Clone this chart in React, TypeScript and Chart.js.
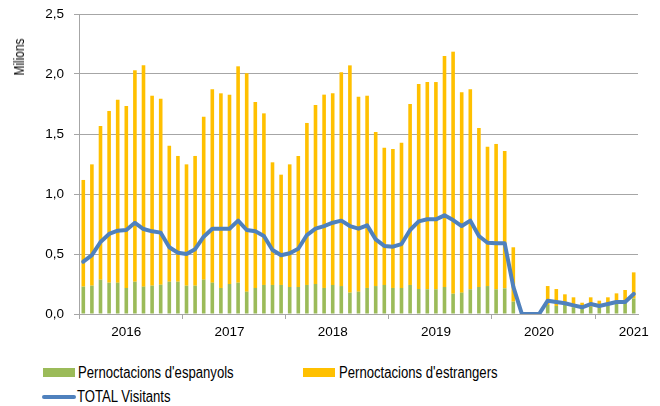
import { useEffect, useRef } from "react";
import { Chart, registerables } from "chart.js";

Chart.register(...registerables);

// ---- Data (millions) ----
const years = ["2016", "2017", "2018", "2019", "2020", "2021"];
const monthNames = ["gen", "febr", "març", "abr", "maig", "juny", "jul", "ag", "set", "oct", "nov", "des"];
const monthsPerYear = [12, 12, 12, 12, 12, 5];

const categories: string[] = [];
years.forEach((y, yi) => {
  for (let m = 0; m < monthsPerYear[yi]; m++) categories.push(`${monthNames[m]} ${y}`);
});

const pernoctacionsEspanyols = [
  0.228, 0.236, 0.286, 0.261, 0.261, 0.217, 0.269, 0.228, 0.236, 0.244, 0.269, 0.269,
  0.236, 0.236, 0.286, 0.261, 0.217, 0.25, 0.261, 0.186, 0.217, 0.242, 0.242, 0.242,
  0.225, 0.225, 0.242, 0.25, 0.217, 0.242, 0.233, 0.178, 0.186, 0.217, 0.233, 0.242,
  0.217, 0.217, 0.242, 0.208, 0.206, 0.206, 0.225, 0.169, 0.178, 0.206, 0.225, 0.233,
  0.206, 0.214, 0.103, 0, 0, 0, 0.075, 0.067, 0.075, 0.056, 0.047, 0.06,
  0.056, 0.075, 0.089, 0.094, 0.13,
];

const pernoctacionsEstrangers = [
  0.889, 1.011, 1.281, 1.431, 1.525, 1.516, 1.762, 1.844, 1.583, 1.55, 1.134, 1.048,
  1.011, 1.081, 1.358, 1.611, 1.622, 1.578, 1.803, 1.82, 1.55, 1.43, 1.022, 0.919,
  1.022, 1.092, 1.35, 1.492, 1.611, 1.597, 1.781, 1.894, 1.625, 1.602, 1.284, 1.144,
  1.158, 1.211, 1.508, 1.709, 1.727, 1.727, 1.925, 2.017, 1.669, 1.666, 1.325, 1.161,
  1.211, 1.144, 0.453, 0, 0, 0, 0.158, 0.141, 0.089, 0.083, 0.047, 0.079,
  0.055, 0.064, 0.083, 0.106, 0.217,
];

const totalVisitants = [
  0.436, 0.49, 0.6, 0.667, 0.694, 0.7, 0.76, 0.708, 0.689, 0.678, 0.556, 0.51,
  0.5, 0.54, 0.644, 0.711, 0.711, 0.711, 0.778, 0.7, 0.689, 0.65, 0.533, 0.489,
  0.506, 0.544, 0.658, 0.711, 0.733, 0.761, 0.778, 0.733, 0.711, 0.739, 0.622, 0.567,
  0.561, 0.583, 0.7, 0.772, 0.789, 0.789, 0.822, 0.783, 0.733, 0.778, 0.65, 0.594,
  0.589, 0.589, 0.228, 0, 0, 0, 0.111, 0.1, 0.089, 0.072, 0.056, 0.083,
  0.067, 0.083, 0.1, 0.1, 0.167,
];

// category index where each year's label sits, and first index of each year
const yearLabelIndices = [5, 17, 29, 41, 53, 64];
const yearStartIndices = [0, 12, 24, 36, 48, 60, 65];
const yTicks = [0, 0.5, 1, 1.5, 2, 2.5];

const GREEN = "#9BBB59";
const YELLOW = "#FFC000";
const BLUE = "#4F81BD";
const GRID = "#a6a6a6";
const FONT = "'Liberation Sans', Arial, sans-serif";

export default function App() {
  const canvasRef = useRef<HTMLCanvasElement | null>(null);

  useEffect(() => {
    if (!canvasRef.current) return;
    Chart.defaults.font.family = FONT;
    const chart = new Chart(canvasRef.current, {
      type: "bar",
      data: {
        labels: categories,
        datasets: [
          {
            type: "line",
            label: "TOTAL Visitants",
            data: totalVisitants,
            borderColor: BLUE,
            backgroundColor: BLUE,
            borderWidth: 4,
            pointRadius: 0,
            tension: 0,
            borderJoinStyle: "round",
            borderCapStyle: "round",
            stack: "line",
            order: 0,
          } as any,
          {
            label: "Pernoctacions d'espanyols",
            data: pernoctacionsEspanyols,
            backgroundColor: GREEN,
            stack: "bars",
            order: 1,
          },
          {
            label: "Pernoctacions d'estrangers",
            data: pernoctacionsEstrangers,
            backgroundColor: YELLOW,
            stack: "bars",
            order: 1,
          },
        ],
      },
      options: {
        responsive: false,
        animation: false,
        devicePixelRatio: 1,
        layout: { padding: { top: 14, right: 22, left: 0, bottom: 0 } },
        datasets: {
          bar: { barPercentage: 0.42, categoryPercentage: 1.0, borderWidth: 0 },
        },
        plugins: {
          legend: { display: false },
          tooltip: { enabled: false },
        },
        scales: {
          x: {
            type: "category",
            stacked: true,
            offset: true,
            afterFit: (scale: any) => {
              scale.height = 31;
            },
            ticks: {
              autoSkip: false,
              maxRotation: 0,
              minRotation: 0,
              padding: 5,
              color: "#000",
              font: { size: 13.5 },
              callback: (_value: any, index: number) => {
                const i = yearLabelIndices.indexOf(index);
                return i >= 0 ? years[i] : "";
              },
            },
            grid: {
              offset: true,
              drawOnChartArea: false,
              drawTicks: true,
              tickLength: 5,
              color: GRID,
              tickColor: (ctx: any) =>
                yearStartIndices.includes(ctx.index) ? GRID : "rgba(0,0,0,0)",
            },
            border: { display: true, color: GRID },
          },
          y: {
            stacked: true,
            min: 0,
            max: 2.5,
            afterBuildTicks: (scale: any) => {
              scale.ticks = yTicks.map((v) => ({ value: v }));
            },
            afterFit: (scale: any) => {
              scale.width = 79;
              scale.paddingTop = 0;
              scale.paddingBottom = 0;
            },
            ticks: {
              padding: 10,
              color: "#000",
              font: { size: 13.5 },
              callback: (value: any) => Number(value).toFixed(1).replace(".", ","),
            },
            grid: { color: GRID, tickLength: 5, drawTicks: true },
            border: { display: true, color: GRID },
          },
        },
      },
    });
    return () => chart.destroy();
  }, []);

  const textStyle = (left: number, top: number): React.CSSProperties => ({
    position: "absolute",
    left,
    top,
    fontFamily: FONT,
    fontSize: 16,
    lineHeight: "18px",
    color: "#000",
    whiteSpace: "nowrap",
    transform: "translateY(-50%) scaleX(0.82)",
    transformOrigin: "left center",
  });

  return (
    <div style={{ position: "absolute", left: 0, top: 0, width: 660, height: 406, background: "#fff", overflow: "hidden" }}>
      <canvas ref={canvasRef} width={660} height={345} style={{ position: "absolute", left: 0, top: 0 }} />
      <div
        style={{
          position: "absolute",
          left: 19,
          top: 57,
          fontFamily: FONT,
          fontSize: 14,
          lineHeight: "16px",
          color: "#000",
          whiteSpace: "nowrap",
          transform: "translate(-50%, -50%) rotate(-90deg) scaleX(0.85)",
          transformOrigin: "center center",
        }}
      >
        Milions
      </div>
      <div style={{ position: "absolute", left: 43, top: 368, width: 32, height: 9, background: GREEN }} />
      <div style={textStyle(78, 373)}>Pernoctacions d'espanyols</div>
      <div style={{ position: "absolute", left: 303, top: 368, width: 32, height: 9, background: YELLOW }} />
      <div style={textStyle(339, 373)}>Pernoctacions d'estrangers</div>
      <div style={{ position: "absolute", left: 42, top: 395, width: 34, height: 4, background: BLUE, borderRadius: 2 }} />
      <div style={textStyle(77, 397)}>TOTAL Visitants</div>
    </div>
  );
}
